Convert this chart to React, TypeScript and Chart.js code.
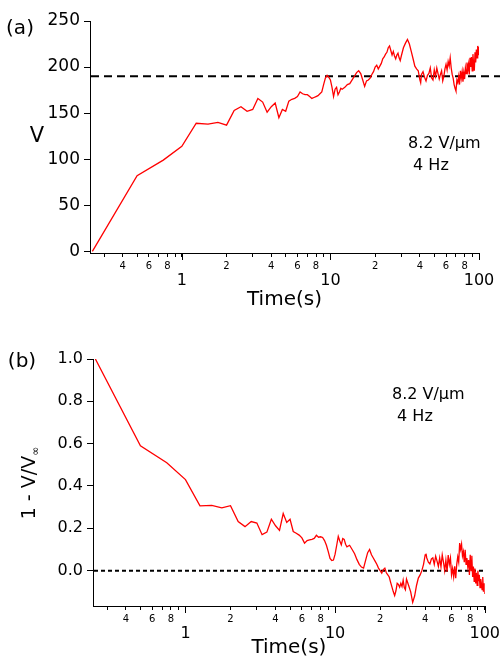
import React, { useEffect, useRef } from 'react';
import { Chart, registerables } from 'chart.js';

Chart.register(...registerables);

const FONT = '"DejaVu Sans", "Liberation Sans", sans-serif';

// Time (s), shared by both panels
const timeSec = [
  0.25, 0.5, 0.75, 1, 1.25, 1.5, 1.75, 2, 2.25, 2.5, 2.75, 3, 3.25, 3.5, 3.75, 4,
  4.25, 4.5, 4.75, 5, 5.25, 5.5, 5.75, 6, 6.25, 6.5, 6.75, 7, 7.25, 7.5, 7.75, 8,
  8.25, 8.5, 8.75, 9, 9.25, 9.5, 9.75, 10, 10.25, 10.5, 10.75, 11, 11.25, 11.5, 11.75,
  12, 12.5, 13, 13.5, 14, 14.5, 15, 15.5, 16, 16.5, 17, 17.5, 18, 18.5, 19, 19.5,
  20, 20.5, 21, 21.5, 22, 22.5, 23, 23.5, 24, 24.5, 25, 25.5, 26, 26.5, 27, 27.5,
  28, 28.5, 29, 29.5, 30,
  31, 32, 33, 34, 35, 36, 37, 38, 39, 40, 40.5,
  41, 42, 43, 44, 45, 46, 47, 48, 49, 50,
  51, 52, 53, 54, 55, 56, 57, 58, 59, 60,
  61, 62, 63, 64, 65, 66, 67, 68, 69, 70,
  71, 72, 73, 74, 75, 76, 77, 78, 79, 80,
  81, 82, 83, 84, 85, 86, 87, 88, 89, 90,
  91, 92, 93, 94, 95, 96, 97, 98, 99, 100,
];

// Panel (a): V
const voltageV = [
  0, 82, 99, 114, 139, 138, 140, 137, 153, 157, 152, 154, 166, 162, 151, 157,
  161, 145, 154, 152, 163, 165, 166, 168, 173, 171, 170, 170, 168, 166, 167, 168,
  169, 171, 173, 181, 188, 191, 189, 186, 178, 168, 176, 178, 170, 173, 177,
  176, 178, 181, 182, 186, 190, 194, 196, 193, 186, 179, 185, 186, 188, 192, 195,
  200, 202, 198, 201, 204, 209, 211, 214, 216, 221, 223, 218, 213, 217, 212, 209,
  213, 215, 210, 207, 212,
  221, 226, 230, 225, 217, 209, 201, 198, 196, 186, 183,
  192, 195, 189, 185, 191, 193, 199, 188, 186, 197,
  190, 199, 193, 187, 192, 196, 185, 190, 198, 203,
  197, 206, 201, 210, 199, 192, 188, 181, 177, 174,
  186, 183, 190, 181, 196, 188, 195, 184, 194, 187,
  199, 193, 205, 197, 203, 192, 210, 200, 211, 196,
  214, 203, 196, 216, 205, 219, 210, 223, 213, 222,
];

// Panel (b): 1 - V/V∞
const relativeDev = [
  1.0, 0.59, 0.51, 0.43, 0.306, 0.308, 0.297, 0.307, 0.232, 0.208, 0.232, 0.225, 0.17, 0.182, 0.243, 0.212,
  0.19, 0.27, 0.228, 0.243, 0.185, 0.177, 0.168, 0.155, 0.13, 0.142, 0.145, 0.148, 0.152, 0.167, 0.158, 0.16,
  0.157, 0.142, 0.12, 0.09, 0.058, 0.048, 0.05, 0.078, 0.12, 0.162, 0.14, 0.122, 0.152, 0.148, 0.125,
  0.113, 0.12, 0.1, 0.08, 0.052, 0.03, 0.017, 0.012, 0.05, 0.085, 0.1, 0.075, 0.06, 0.045, 0.03, 0.012,
  0.0, -0.012, 0.005, 0.012, -0.01, -0.02, -0.03, -0.055, -0.078, -0.1, -0.118, -0.095, -0.06, -0.065, -0.078, -0.06,
  -0.075, -0.045, -0.08, -0.09, -0.04,
  -0.07, -0.1, -0.15, -0.12, -0.07, -0.035, -0.02, 0.0, 0.03, 0.075, 0.08,
  0.06, 0.04, 0.032, 0.055, 0.06, 0.03, 0.068, 0.045, 0.02, 0.06,
  0.018, 0.074, 0.04, 0.0, 0.05, -0.005, 0.074, 0.03, 0.06, -0.02,
  0.01, -0.03, 0.02, -0.036, 0.03, 0.065, 0.04, 0.13, 0.1, 0.125,
  0.07, 0.09, 0.04, 0.098, 0.03, 0.06, 0.02, 0.05, -0.02, 0.075,
  0.0, 0.07, -0.03, 0.02, -0.05, 0.01, -0.06, -0.01, -0.07, 0.0,
  -0.05, -0.02, -0.08, -0.04, -0.06, -0.09, -0.03, -0.1, -0.06, -0.11,
];

const xTickValues = [0.3, 0.4, 0.5, 0.6, 0.7, 0.8, 0.9, 1, 2, 3, 4, 5, 6, 7, 8, 9, 10, 20, 30, 40, 50, 60, 70, 80, 90, 100];
const xMajorTicks = [1, 10, 100];
const xLabeledDigits = [2, 4, 6, 8];
const yTicksA = [0, 50, 100, 150, 200, 250];
const yTicksB = [0, 0.2, 0.4, 0.6, 0.8, 1.0];
const refLevelA = 190;
const refLevelB = 0;
const noteField = '8.2 V/μm';
const noteFreq = ' 4 Hz';

function isMajor(v: number) {
  return xMajorTicks.some((m) => Math.abs(m - v) < 1e-9);
}

function xLabel(v: number): string | string[] {
  if (isMajor(v)) return ['', String(v)];
  const e = Math.floor(Math.log10(v) + 1e-9);
  const d = Math.round(v / Math.pow(10, e));
  return xLabeledDigits.includes(d) ? String(d) : '';
}

type Panel = {
  xs: number[];
  ys: number[];
  yMin: number;
  yMax: number;
  yTicks: number[];
  yFmt: (v: number) => string;
  yFontSize: number;
  padTop: number;
  padRight: number;
  yAxisWidth: number;
  xAxisHeight: number;
  titlePad: number;
  refLevel: number;
  dash: number[];
  dashWidth: number;
  dashExtend: number;
  panel: string;
  panelX: number;
  panelY: number;
  noteX: number;
  noteY1: number;
  noteY2: number;
  drawYTitle: (ctx: CanvasRenderingContext2D) => void;
};

function decor(p: Panel) {
  return {
    id: 'decor',
    beforeDatasetsDraw(chart: any) {
      const { ctx, chartArea } = chart;
      const y = chart.scales.y.getPixelForValue(p.refLevel);
      ctx.save();
      ctx.strokeStyle = '#000';
      ctx.lineWidth = p.dashWidth;
      ctx.setLineDash(p.dash);
      ctx.beginPath();
      ctx.moveTo(chartArea.left + 1, y);
      ctx.lineTo(chartArea.right + p.dashExtend, y);
      ctx.stroke();
      ctx.restore();
    },
    afterDraw(chart: any) {
      const { ctx } = chart;
      const xs = chart.scales.x;
      ctx.save();
      ctx.strokeStyle = '#000';
      ctx.lineWidth = 1;
      xs.ticks.forEach((t: any) => {
        if (isMajor(t.value)) {
          const x = Math.round(xs.getPixelForValue(t.value)) + 0.5;
          ctx.beginPath();
          ctx.moveTo(x, xs.top);
          ctx.lineTo(x, xs.top + 7);
          ctx.stroke();
        }
      });
      ctx.fillStyle = '#000';
      ctx.textBaseline = 'middle';
      ctx.textAlign = 'center';
      ctx.font = `20px ${FONT}`;
      ctx.fillText(p.panel, p.panelX, p.panelY);
      ctx.textAlign = 'left';
      ctx.font = `16px ${FONT}`;
      ctx.fillText(noteField, p.noteX, p.noteY1);
      ctx.fillText(noteFreq, p.noteX, p.noteY2);
      p.drawYTitle(ctx);
      ctx.restore();
    },
  };
}

function buildChart(canvas: HTMLCanvasElement, p: Panel) {
  return new Chart(canvas, {
    type: 'line',
    data: {
      datasets: [
        {
          data: p.xs.map((x, i) => ({ x, y: p.ys[i] })),
          borderColor: '#ff0000',
          borderWidth: 1.3,
          pointRadius: 0,
          tension: 0,
          fill: false,
        },
      ],
    },
    options: {
      responsive: false,
      animation: false,
      devicePixelRatio: 1,
      layout: { padding: { top: p.padTop, right: p.padRight, left: 0, bottom: 0 } },
      plugins: { legend: { display: false }, tooltip: { enabled: false } },
      scales: {
        x: {
          type: 'logarithmic',
          min: 0.241,
          max: 100,
          afterBuildTicks: (s: any) => {
            s.ticks = xTickValues.map((v) => ({ value: v, major: isMajor(v) }));
          },
          afterFit: (s: any) => {
            s.height = p.xAxisHeight;
          },
          grid: { drawOnChartArea: false, drawTicks: true, tickLength: 4, color: '#000', tickColor: '#000' },
          border: { display: true, color: '#000', width: 1 },
          ticks: {
            autoSkip: false,
            maxRotation: 0,
            minRotation: 0,
            padding: 3,
            color: '#000',
            callback: (v: any) => xLabel(Number(v)),
            font: (c: any) =>
              c.tick && isMajor(c.tick.value)
                ? { family: FONT, size: 16, lineHeight: 0.875 }
                : { family: FONT, size: 10, lineHeight: 1.2 },
          },
          title: {
            display: true,
            text: 'Time(s)',
            color: '#000',
            font: { family: FONT, size: 20, lineHeight: 1 },
            padding: { top: 0, bottom: p.titlePad },
          },
        },
        y: {
          type: 'linear',
          min: p.yMin,
          max: p.yMax,
          afterBuildTicks: (s: any) => {
            s.ticks = p.yTicks.map((v) => ({ value: v }));
          },
          afterFit: (s: any) => {
            s.width = p.yAxisWidth;
          },
          grid: { drawOnChartArea: false, drawTicks: true, tickLength: 6, color: '#000', tickColor: '#000' },
          border: { display: true, color: '#000', width: 1 },
          ticks: {
            padding: 4,
            color: '#000',
            font: { family: FONT, size: p.yFontSize },
            callback: (v: any) => p.yFmt(Number(v)),
          },
        },
      },
    },
    plugins: [decor(p)],
  } as any);
}

export default function App() {
  const refA = useRef<HTMLCanvasElement>(null);
  const refB = useRef<HTMLCanvasElement>(null);

  useEffect(() => {
    if (!refA.current || !refB.current) return;
    const chartA = buildChart(refA.current, {
      xs: timeSec,
      ys: voltageV,
      yMin: -1.8,
      yMax: 250,
      yTicks: yTicksA,
      yFmt: (v) => String(Math.round(v)),
      yFontSize: 17,
      padTop: 21,
      padRight: 24,
      yAxisWidth: 90,
      xAxisHeight: 76,
      titlePad: 19,
      refLevel: refLevelA,
      dash: [8, 5],
      dashWidth: 2,
      dashExtend: 21,
      panel: '(a)',
      panelX: 20,
      panelY: 29,
      noteX: 408,
      noteY1: 144,
      noteY2: 166,
      drawYTitle: (ctx) => {
        ctx.textAlign = 'center';
        ctx.textBaseline = 'middle';
        ctx.font = `21px ${FONT}`;
        ctx.fillText('V', 37, 137);
      },
    });
    const chartB = buildChart(refB.current, {
      xs: timeSec,
      ys: relativeDev,
      yMin: -0.167,
      yMax: 1.0,
      yTicks: yTicksB,
      yFmt: (v) => v.toFixed(1),
      yFontSize: 16,
      padTop: 30,
      padRight: 16,
      yAxisWidth: 93,
      xAxisHeight: 52,
      titlePad: 0,
      refLevel: refLevelB,
      dash: [4, 3],
      dashWidth: 2,
      dashExtend: 0,
      panel: '(b)',
      panelX: 22,
      panelY: 33,
      noteX: 392,
      noteY1: 66,
      noteY2: 88,
      drawYTitle: (ctx) => {
        ctx.save();
        ctx.translate(30, 154);
        ctx.rotate(-Math.PI / 2);
        ctx.textBaseline = 'middle';
        ctx.textAlign = 'left';
        const main = '1 - V/V';
        const sub = '∞';
        ctx.font = `19px ${FONT}`;
        const w1 = ctx.measureText(main).width;
        ctx.font = `11px ${FONT}`;
        const w2 = ctx.measureText(sub).width;
        const start = -(w1 + w2) / 2;
        ctx.font = `19px ${FONT}`;
        ctx.fillText(main, start, 0);
        ctx.font = `11px ${FONT}`;
        ctx.fillText(sub, start + w1, 6);
        ctx.restore();
      },
    });
    return () => {
      chartA.destroy();
      chartB.destroy();
    };
  }, []);

  return (
    <div style={{ position: 'absolute', left: 0, top: 0, width: 503, height: 658, background: '#fff' }}>
      <canvas ref={refA} width={503} height={329} style={{ display: 'block', width: 503, height: 329 }} />
      <canvas ref={refB} width={503} height={329} style={{ display: 'block', width: 503, height: 329 }} />
    </div>
  );
}
